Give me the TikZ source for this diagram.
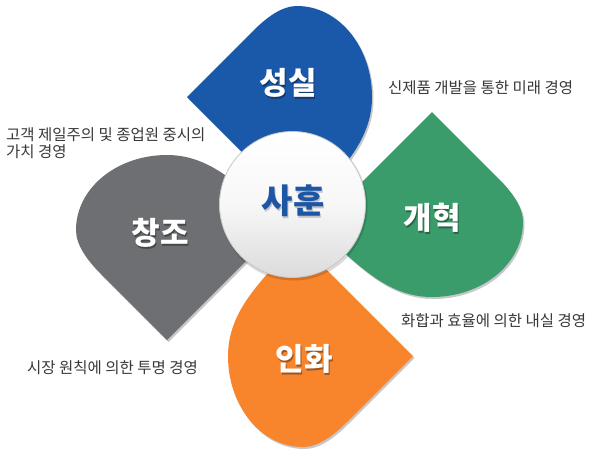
\documentclass[tikz,border=0pt]{standalone}
\usepackage{fontspec}
\setmainfont{Noto Sans CJK KR}
\definecolor{cblue}{HTML}{1A59AA}
\definecolor{cgreen}{HTML}{3A9B6B}
\definecolor{cgray}{HTML}{6E6F72}
\definecolor{corange}{HTML}{F8842C}
\definecolor{ctext}{HTML}{383838}
\definecolor{chead}{HTML}{1E56A6}
\tikzset{
  petal/.pic={
    \path[pic actions] (0,0) -- (66,-66)
      .. controls (80,-80) and (95,-91) .. (110,-91)
      .. controls (152,-91) and (185,-50) .. (185,0)
      .. controls (185,35) and (165,60) .. (145,83)
      .. controls (130,100) and (103,103) .. (88,88) -- cycle;
  },
  petalshadow/.style={fill=black, fill opacity=0.22},
  desc/.style={anchor=west, inner sep=0pt, text=ctext, font=\fontsize{15.5}{17}\selectfont},
  biglabel/.style={inner sep=0pt, text=white, font=\bfseries\fontsize{31}{31}\selectfont},
  labelshadow/.style={inner sep=0pt, text=black, text opacity=0.35, font=\bfseries\fontsize{31}{31}\selectfont},
}
\begin{document}
\begin{tikzpicture}[x=1pt,y=-1pt]
\useasboundingbox[fill=white] (0,0) rectangle (590,459);
% shadows
\pic[petalshadow] at (188.5,99) {petal};
\pic[petalshadow, rotate=-90] at (433.5,114) {petal};
\pic[petalshadow, rotate=180] at (414.5,358) {petal};
\pic[petalshadow, rotate=90] at (168.5,342) {petal};
% petals
\pic[fill=cblue] at (187,97) {petal};
\pic[fill=cgreen, rotate=-90] at (432,112) {petal};
\pic[fill=corange, rotate=180] at (413,356) {petal};
\pic[fill=cgray, rotate=90] at (167,340) {petal};
% hub
\fill[black, opacity=0.15] (293.5,206.5) circle[radius=74];
\node (hub) [circle, minimum size=146pt, inner sep=0pt, draw=black!22, line width=0.8pt,
  top color=white, bottom color=black!14, middle color=black!3] at (292.5,204.5) {};
\node (hubtxtS) [labelshadow, text opacity=0.2, font=\bfseries\fontsize{34}{34}\selectfont] at (294,202.5) {사훈};
\node (hubtxt) [inner sep=0pt, text=chead, font=\bfseries\fontsize{34}{34}\selectfont] at (293,201) {사훈};
% labels
\node (l1s) [labelshadow] at (289.5,84.5) {성실};
\node (l1) [biglabel] at (288,83) {성실};
\node (l2s) [labelshadow] at (433.5,219.5) {개혁};
\node (l2) [biglabel] at (432,218) {개혁};
\node (l3s) [labelshadow] at (161.5,234.5) {창조};
\node (l3) [biglabel] at (160,233) {창조};
\node (l4s) [labelshadow] at (305.5,360.5) {인화};
\node (l4) [biglabel] at (304,359) {인화};
% descriptions
\node (d1) [desc] at (388,87.5) {신제품 개발을 통한 미래 경영};
\node (d2) [desc] at (401,321) {화합과 효율에 의한 내실 경영};
\node (d3) [desc] at (27,368) {시장 원칙에 의한 투명 경영};
\node (d4a) [desc] at (6,134.5) {고객 제일주의 및 종업원 중시의};
\node (d4b) [desc] at (6,151.5) {가치 경영};
\end{tikzpicture}
\end{document}
